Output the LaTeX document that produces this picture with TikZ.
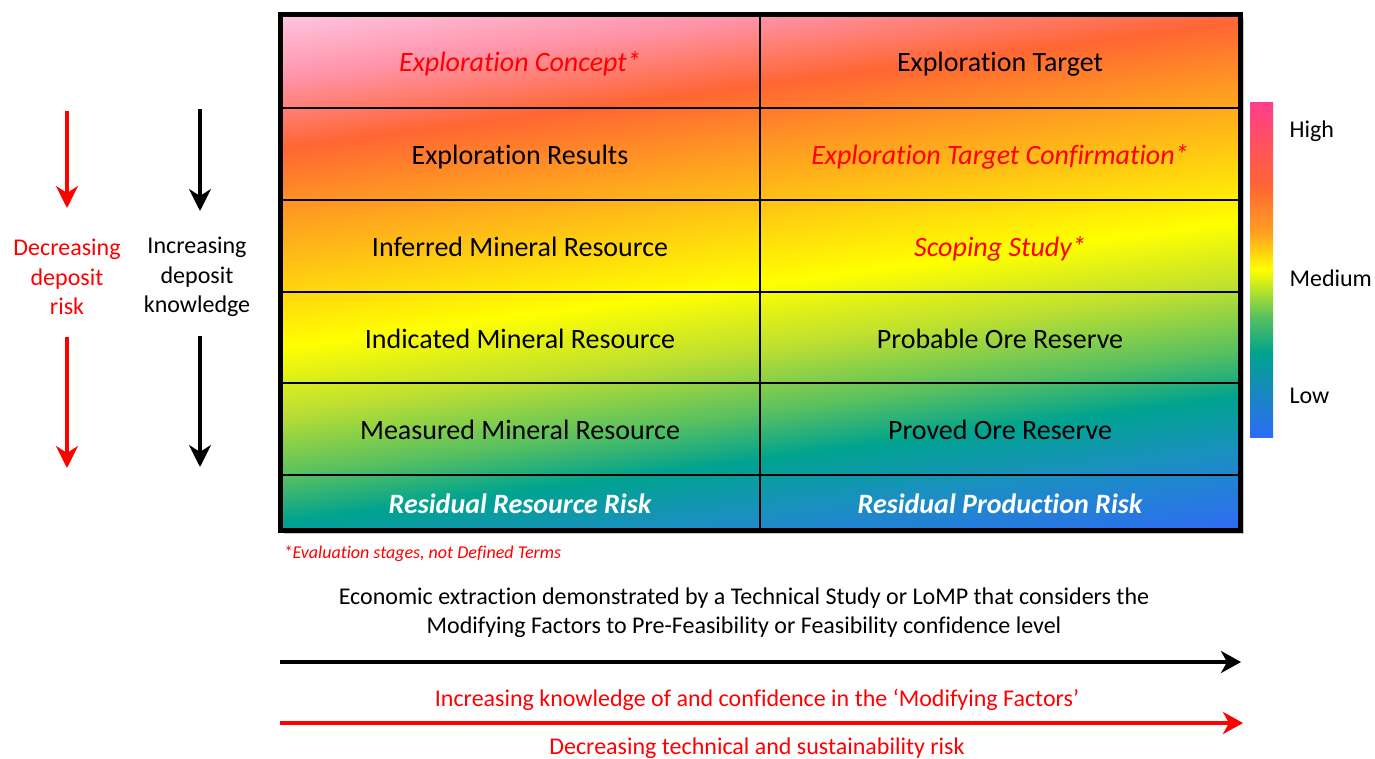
\documentclass[tikz,border=0pt]{standalone}
\usepackage{fontspec}
\setmainfont[Ligatures=NoCommon]{Carlito}
\usetikzlibrary{arrows.meta}

\definecolor{riskpink}{HTML}{FFC6E2}
\definecolor{risksalmon}{HTML}{FF94AA}
\definecolor{riskred}{HTML}{FF6633}
\definecolor{riskorange}{HTML}{FFA020}
\definecolor{riskyellow}{HTML}{FFFF00}
\definecolor{risklime}{HTML}{BEE030}
\definecolor{riskgreen}{HTML}{58C060}
\definecolor{riskteal}{HTML}{00A38F}
\definecolor{riskcyan}{HTML}{1A90C0}
\definecolor{riskblue}{HTML}{2F6BF5}
\definecolor{riskhot}{HTML}{FF3D8C}

\pgfdeclareverticalshading{tableshade}{100bp}{%
	color(0bp)=(riskblue); color(34bp)=(riskblue); color(38bp)=(riskcyan);
	color(40.7bp)=(riskteal); color(43bp)=(riskgreen); color(46.2bp)=(risklime);
	color(49.4bp)=(riskyellow); color(55.7bp)=(riskorange); color(59.3bp)=(riskred);
	color(62.8bp)=(risksalmon); color(66bp)=(riskpink); color(100bp)=(riskpink)}
\pgfdeclareverticalshading{barshade}{100bp}{%
	color(0bp)=(riskblue); color(25bp)=(riskblue); color(37.5bp)=(riskteal);
	color(42.9bp)=(riskgreen); color(50bp)=(riskyellow); color(55.5bp)=(riskorange);
	color(62.4bp)=(riskred); color(75bp)=(riskhot); color(100bp)=(riskhot)}

\begin{document}
\begin{tikzpicture}[x=1pt,y=-1pt,
		cell/.style={draw=black,line width=1.5pt,minimum width=480pt,inner sep=0pt,text height=21pt,text depth=0pt,font=\fontsize{28}{34}\selectfont},
		stage/.style={cell,text=red,font=\fontsize{28}{34}\selectfont\itshape},
		residual/.style={cell,text=white,font=\fontsize{28}{34}\selectfont\bfseries\itshape},
		sidetext/.style={align=center,font=\fontsize{24}{29.5}\selectfont},
		bartext/.style={anchor=west,font=\fontsize{24}{29}\selectfont},
		bigtext/.style={align=center,font=\fontsize{24}{29}\selectfont},
		downarrow/.style={line width=3.5pt,-{Stealth[length=22pt,width=22pt,inset=7pt]}},
		longarrow/.style={line width=4pt,-{Stealth[length=20pt,width=22pt,inset=6pt]}}]
	\useasboundingbox (0,0) rectangle (1375,758);

	\fill[gray!45] (284,18) rectangle (1244,534);
	\begin{scope}
		\clip (280,14) rectangle (1240,530);
		\shade[shading=tableshade,shading angle=7.5] (260,-228) rectangle (1260,772);
	\end{scope}

	\node[stage,minimum height=94pt] (c11) at (520,61) {Exploration Concept*};
	\node[cell,minimum height=94pt] (c12) at (1000,61) {Exploration Target};
	\node[cell,minimum height=92pt] (c21) at (520,154) {Exploration Results};
	\node[stage,minimum height=92pt] (c22) at (1000,154) {Exploration Target Confirmation*};
	\node[cell,minimum height=92pt] (c31) at (520,246) {Inferred Mineral Resource};
	\node[stage,minimum height=92pt] (c32) at (1000,246) {Scoping Study*};
	\node[cell,minimum height=91pt] (c41) at (520,337.5) {Indicated Mineral Resource};
	\node[cell,minimum height=91pt] (c42) at (1000,337.5) {Probable Ore Reserve};
	\node[cell,minimum height=92pt] (c51) at (520,429) {Measured Mineral Resource};
	\node[cell,minimum height=92pt] (c52) at (1000,429) {Proved Ore Reserve};
	\node[residual,minimum height=55pt] (c61) at (520,502.5) {Residual Resource Risk};
	\node[residual,minimum height=55pt] (c62) at (1000,502.5) {Residual Production Risk};
	\draw[line width=5pt] (280,14) rectangle (1240,530);

	\shade[shading=barshade] (1250,102) rectangle (1273,437);
	\node[bartext] (high) at (1286,131) {High};
	\node[bartext] (medium) at (1286,278) {Medium};
	\node[bartext] (low) at (1286,396) {Low};

	\node[sidetext,text=red] (risk) at (67,277) {Decreasing\\deposit\\risk};
	\node[sidetext] (know) at (197,277) {Increasing\\deposit\\knowledge};
	\coordinate (r1) at (67,111);
	\coordinate (r2) at (67,208);
	\coordinate (r3) at (67,337);
	\coordinate (r4) at (67,468);
	\coordinate (k1) at (200,109);
	\coordinate (k2) at (200,211);
	\coordinate (k3) at (200,336);
	\coordinate (k4) at (200,467);
	\draw[downarrow,red] (r1) -- (r2);
	\draw[downarrow,red] (r3) -- (r4);
	\draw[downarrow] (k1) -- (k2);
	\draw[downarrow] (k3) -- (k4);

	\node[anchor=west,text=red,font=\fontsize{18}{22}\selectfont\itshape] (note) at (280,554) {*Evaluation stages, not Defined Terms};
	\node[bigtext] (econ) at (744,612.5) {Economic extraction demonstrated by a Technical Study or LoMP that considers the\\Modifying Factors to Pre-Feasibility or Feasibility confidence level};
	\coordinate (e1) at (280,662);
	\coordinate (e2) at (1241,662);
	\draw[longarrow] (e1) -- (e2);
	\node[bigtext,text=red] (modf) at (757,700) {Increasing knowledge of and confidence in the ‘Modifying Factors’};
	\coordinate (m1) at (280,723);
	\coordinate (m2) at (1243,723);
	\draw[longarrow,red] (m1) -- (m2);
	\node[bigtext,text=red] (tech) at (757,748) {Decreasing technical and sustainability risk};
\end{tikzpicture}
\end{document}
